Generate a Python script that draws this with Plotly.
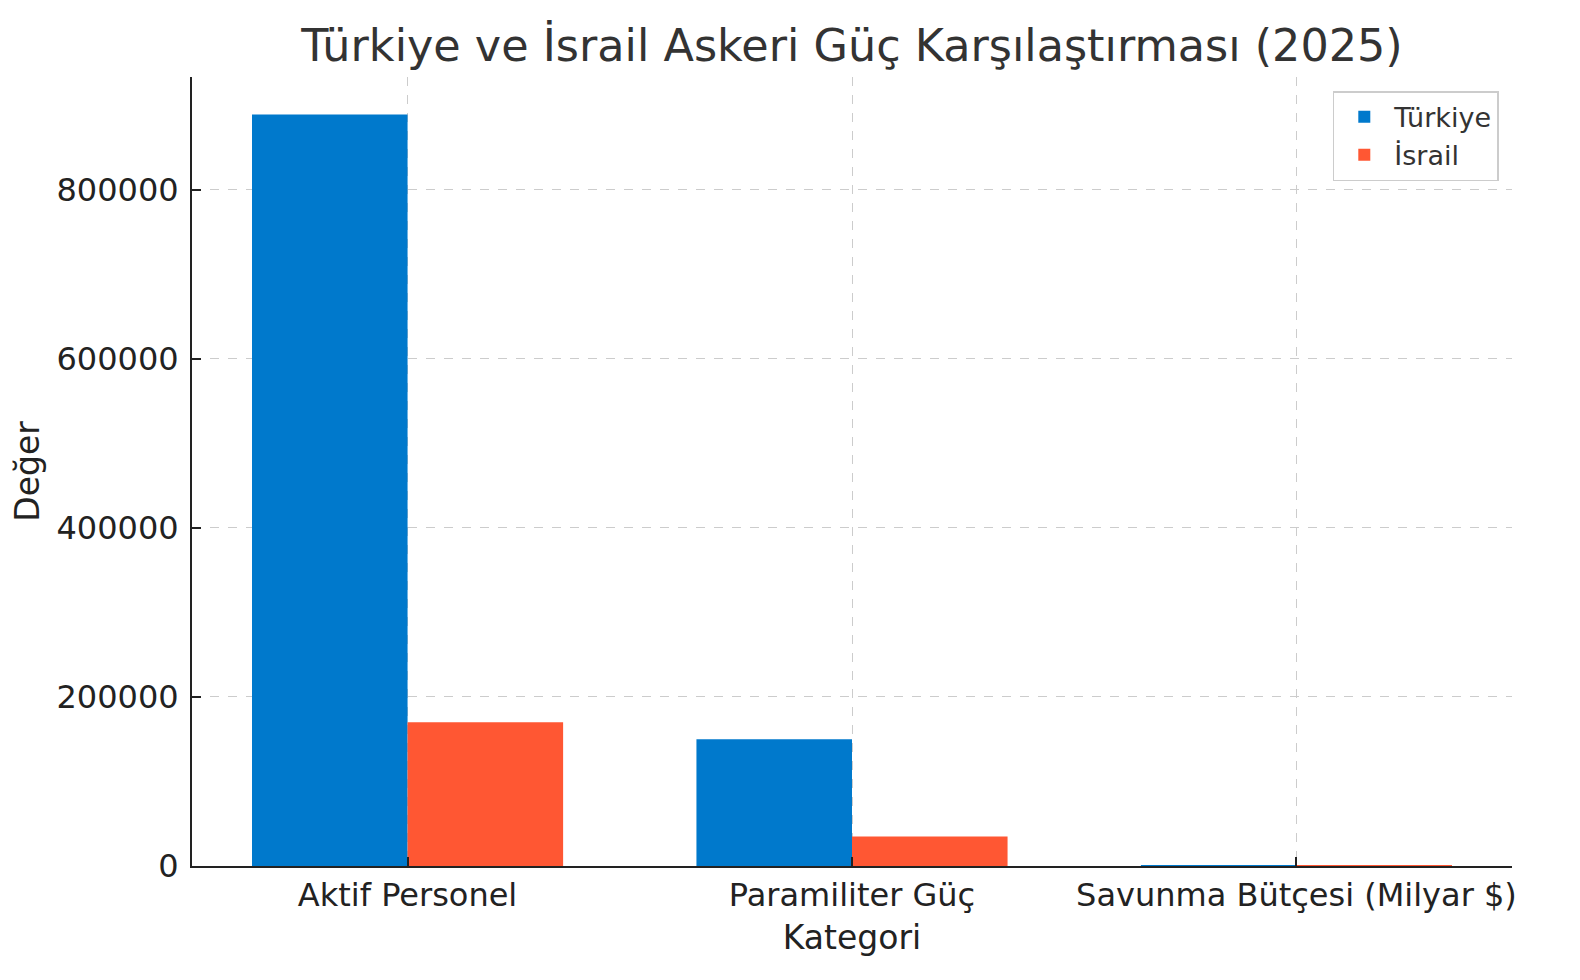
import plotly.graph_objects as go

categories = ["Aktif Personel", "Paramiliter Güç", "Savunma Bütçesi (Milyar $)"]
turkiye = [889000, 150000, 40]
israil = [170000, 35000, 24]

BLUE = "#0079CC"
ORANGE = "#FF5733"
FONT = "DejaVu Sans"

# page body keeps an 8px margin, so the figure is 16px smaller than the window
W, H, PAD = 1564, 964, 8

fig = go.Figure()
fig.add_bar(x=categories, y=turkiye, name="Türkiye", marker_color=BLUE,
            marker_line_width=0)
fig.add_bar(x=categories, y=israil, name="İsrail", marker_color=ORANGE,
            marker_line_width=0)

axis_common = dict(
    showline=True, linecolor="#222", linewidth=2,
    ticks="inside", ticklen=9, tickwidth=2, tickcolor="#222",
    showgrid=True, gridcolor="#cccccc", griddash="dash", gridwidth=1.2,
    zeroline=False, tickfont=dict(family=FONT, size=32, color="#222"),
    layer="above traces",
)

fig.update_layout(
    width=W, height=H,
    margin=dict(l=192 - PAD, r=68 - PAD, t=77 - PAD, b=114 - PAD),
    paper_bgcolor="white", plot_bgcolor="white",
    barmode="group", bargap=0.3, bargroupgap=0,
    font=dict(family=FONT, color="#222"),
    # centred over the axes, like the source chart
    title=dict(text="Türkiye ve İsrail Askeri Güç Karşılaştırması (2025)",
               xref="paper", x=0.5, xanchor="center", y=1 - 37 / H, yanchor="middle",
               font=dict(family=FONT, size=44.5, color="#333")),
    xaxis=dict(axis_common, range=[-0.485, 2.485],
               title=dict(text="Kategori", standoff=12,
                          font=dict(family=FONT, size=33, color="#222"))),
    yaxis=dict(axis_common, range=[0, 933500], tickvals=[0, 200000, 400000, 600000, 800000],
               tickformat="d", ticklabelstandoff=5,
               title=dict(text="Değer", standoff=8,
                          font=dict(family=FONT, size=33, color="#222"))),
    legend=dict(x=0.99, y=0.982, xanchor="right", yanchor="top",
                bgcolor="white", bordercolor="#cccccc", borderwidth=1.5,
                font=dict(family=FONT, size=27, color="#333"),
                itemwidth=50),
)

fig.write_html("out.html")
